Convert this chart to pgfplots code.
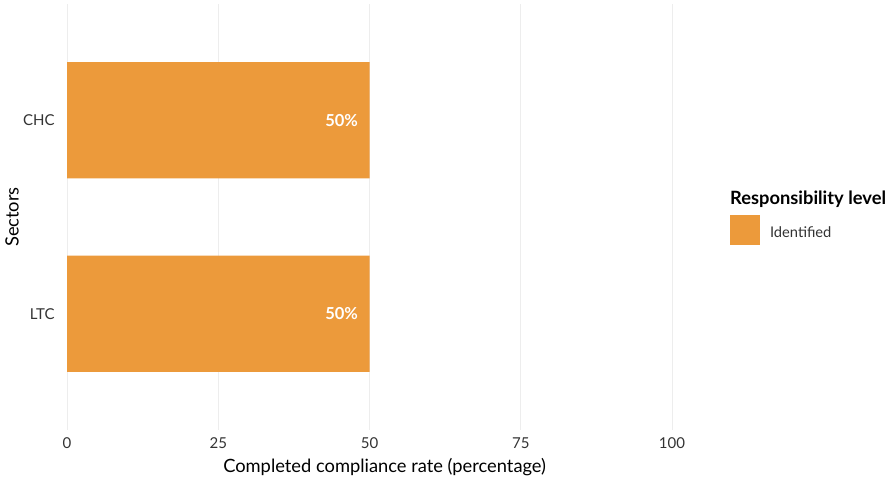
\documentclass[border=0pt]{standalone}
\usepackage{pgfplots}
\pgfplotsset{compat=1.18}
\usepackage{fontspec}
\setmainfont{Lato}
\definecolor{barc}{HTML}{EC9A3B}
\definecolor{gridc}{HTML}{EDEDED}
\definecolor{tickc}{HTML}{333333}
\begin{document}
\begin{tikzpicture}[x=1pt,y=1pt]
\path[use as bounding box] (0,0) rectangle (888,479);
\begin{axis}[
  at={(67pt,49pt)}, anchor=south west, scale only axis,
  width=635.25pt, height=426pt,
  xmin=0, xmax=105, ymin=-0.6, ymax=1.6,
  xbar, bar width=0.6,
  axis line style={draw=none}, tick style={draw=none},
  xtick={0,25,50,75,100}, ytick={0,1}, yticklabels={LTC,CHC},
  xmajorgrids, grid style={gridc, line width=0.9pt},
  /pgf/number format/assume math mode=true,
  ticklabel style={font=\fontsize{15}{17}\selectfont, text=tickc},
  xticklabel style={anchor=base, yshift=-18pt},
  yticklabel style={anchor=east, inner sep=0pt, xshift=-8pt},
  xlabel={Completed compliance rate (percentage)},
  xlabel style={at={(axis description cs:0.5,0)}, anchor=base, yshift=-42pt, font=\fontsize{18.3}{20}\selectfont},
  ylabel={Sectors},
  ylabel style={at={(axis description cs:-0.0866,0.5)}, anchor=center, font=\fontsize{18.3}{20}\selectfont},
  point meta=x,
  nodes near coords={\pgfmathprintnumber{\pgfplotspointmeta}\%},
  nodes near coords style={anchor=east, xshift=-8pt, text=white, font=\bfseries\fontsize{16.5}{18}\selectfont, /pgf/number format/assume math mode=true},
  legend style={at={(rel axis cs:1.04368,0.5047)}, anchor=north west, draw=none, fill=none, inner sep=0pt, outer sep=0pt,
    column sep=10pt,
    nodes={inner sep=0pt, font=\fontsize{14.7}{16}\selectfont, text=tickc}},
  legend cell align=left,
  legend image code/.code={\fill[barc] (0pt,-12pt) rectangle (30pt,18pt);},
]
\addplot[fill=barc, draw=none] coordinates {(50,0) (50,1)};
\addlegendentry{Identified}
\end{axis}
\node[anchor=base west, inner sep=0pt, font=\bfseries\fontsize{18.3}{20}\selectfont] at (730,274) {Responsibility level};
\end{tikzpicture}
\end{document}
